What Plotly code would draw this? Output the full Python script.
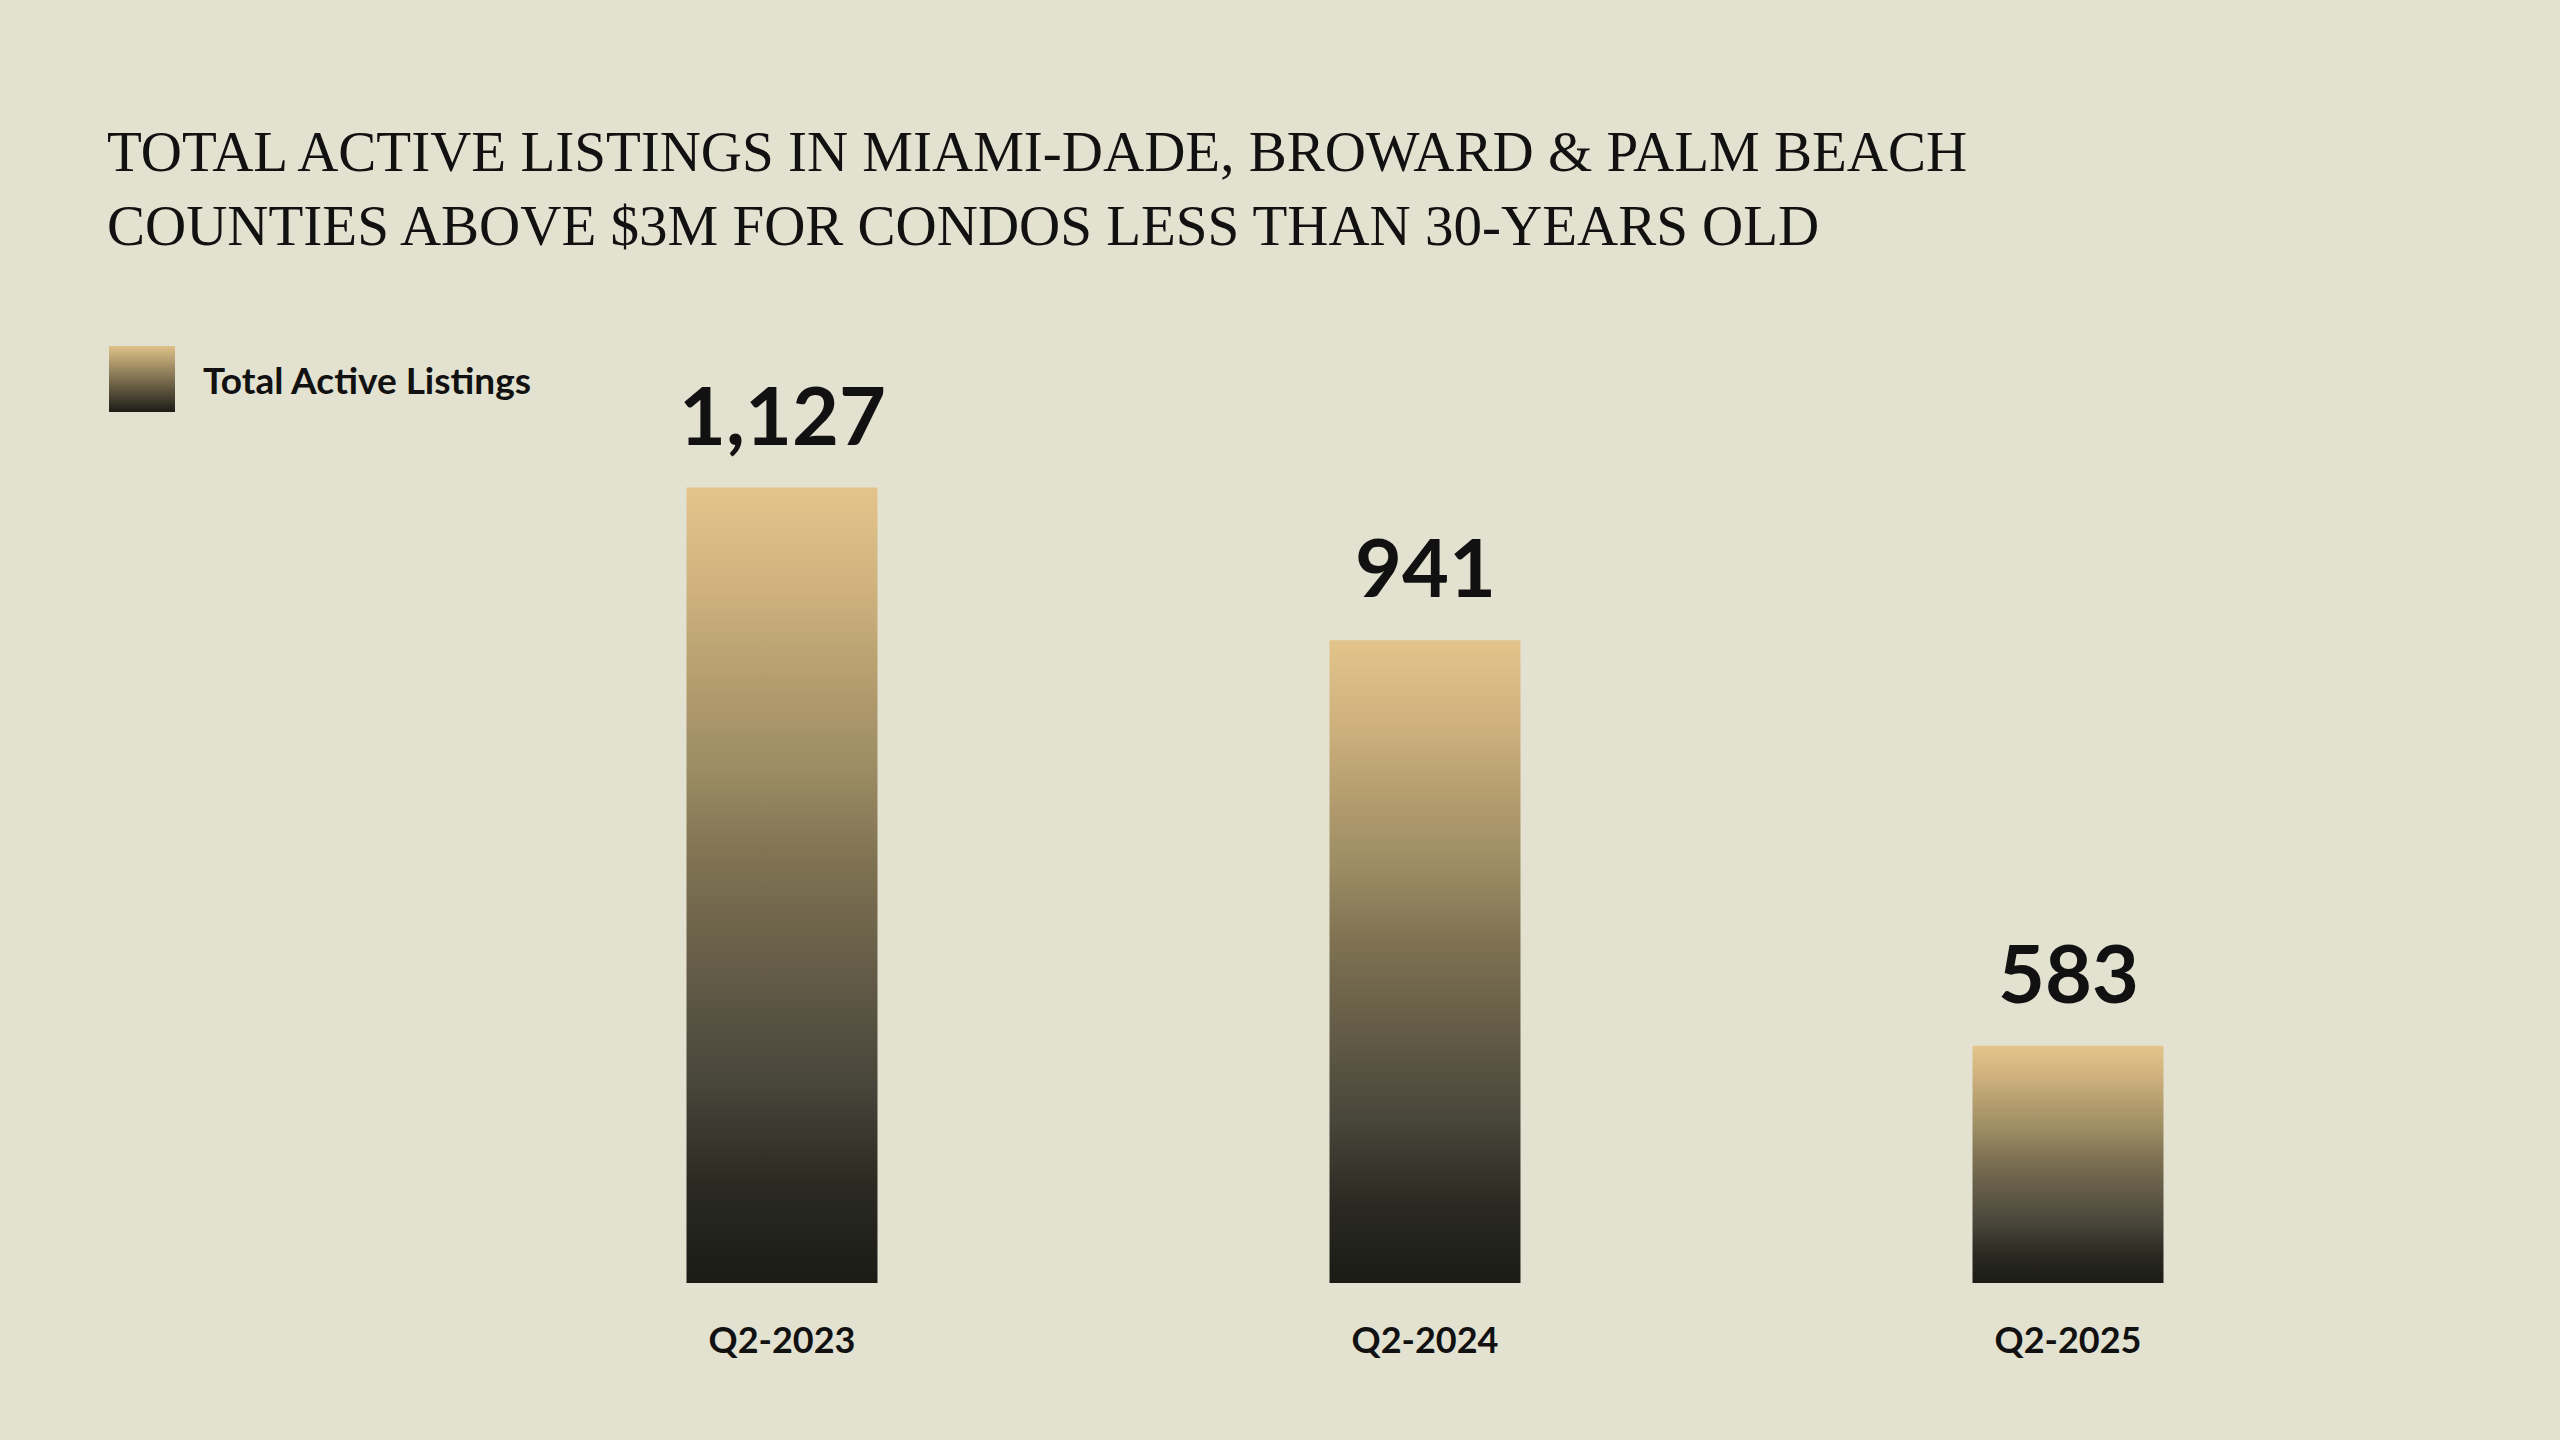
import math
import plotly.graph_objects as go

# ---- data ----
categories = ["Q2-2023", "Q2-2024", "Q2-2025"]
values = [1127, 941, 583]
value_labels = ["1,127", "941", "583"]
series_name = "Total Active Listings"
title_lines = [
    "TOTAL ACTIVE LISTINGS IN MIAMI-DADE, BROWARD & PALM BEACH",
    "COUNTIES ABOVE $3M FOR CONDOS LESS THAN 30-YEARS OLD",
]

# ---- style / layout constants ----
W, H = 2560, 1440
BG = "#e3e1cf"
INK = "#111111"
PLOT_BOTTOM = 157
Y_MIN_LOG = 2.644
Y_MAX_LOG = 3.302
BAR_HALF = 0.1485
GRAD = [
    [0.0, "#1a1b15"],
    [0.12, "#2a2a22"],
    [0.25, "#48453a"],
    [0.40, "#655d48"],
    [0.53, "#7f7252"],
    [0.65, "#9c8d64"],
    [0.75, "#b39c6e"],
    [0.87, "#ceb17d"],
    [1.0, "#e3c58b"],
]
SANS = "Lato"
SERIF = "Liberation Serif"

fig = go.Figure()

ybase = 10 ** Y_MIN_LOG
for i, (cat, v) in enumerate(zip(categories, values)):
    fig.add_trace(go.Scatter(
        x=[i - BAR_HALF, i + BAR_HALF, i + BAR_HALF, i - BAR_HALF, i - BAR_HALF],
        y=[ybase, ybase, v, v, ybase],
        mode="lines",
        fill="toself",
        line=dict(width=0, color="rgba(0,0,0,0)"),
        fillgradient=dict(type="vertical", colorscale=GRAD),
        name=cat,
        showlegend=False,
        hoverinfo="skip",
    ))
    fig.add_annotation(
        x=i, y=math.log10(v), xref="x", yref="y",
        text=value_labels[i], showarrow=False,
        yanchor="bottom", yshift=24,
        font=dict(family=SANS, size=81, color=INK, weight="bold"),
    )

# legend swatch (overlay axes share the main y domain)
plot_h = H - PLOT_BOTTOM
fig.add_trace(go.Scatter(
    x=[142 / W], y=[1 - 379 / plot_h], xaxis="x2", yaxis="y2",
    mode="markers",
    marker=dict(symbol="square", size=66, color="#dfc288",
                gradient=dict(type="vertical", color="#1c1d17"),
                line=dict(width=0)),
    showlegend=False, hoverinfo="skip",
))
fig.add_annotation(
    x=201 / W, y=1 - 379 / H, xref="paper", yref="paper",
    text=series_name, showarrow=False, xanchor="left", yanchor="middle",
    font=dict(family=SANS, size=37, color=INK, weight="bold"),
)

# title
fig.add_annotation(
    x=105 / W, y=1 - 118 / H, xref="paper", yref="paper",
    text="<br>".join(title_lines), showarrow=False,
    xanchor="left", yanchor="top", align="left",
    font=dict(family=SERIF, size=57, color=INK),
)

fig.update_layout(
    width=W, height=H,
    margin=dict(l=0, r=0, t=0, b=0),
    paper_bgcolor=BG, plot_bgcolor=BG,
    template="none",
    showlegend=False,
    xaxis=dict(
        range=[-782 / 643, (W - 782) / 643],
        tickvals=list(range(len(categories))), ticktext=categories,
        showgrid=False, zeroline=False, showline=False, ticks="",
        tickfont=dict(family=SANS, size=36, color=INK, weight="bold"),
        ticklabelstandoff=33, automargin=False, fixedrange=True,
    ),
    yaxis=dict(
        type="log", range=[Y_MIN_LOG, Y_MAX_LOG],
        domain=[PLOT_BOTTOM / H, 1],
        showgrid=False, zeroline=False, showline=False,
        showticklabels=False, ticks="", automargin=False, fixedrange=True,
    ),
    xaxis2=dict(range=[0, 1], overlaying="x", visible=False, fixedrange=True),
    yaxis2=dict(range=[0, 1], overlaying="y", visible=False, fixedrange=True),
)

fig.write_html("out.html")
